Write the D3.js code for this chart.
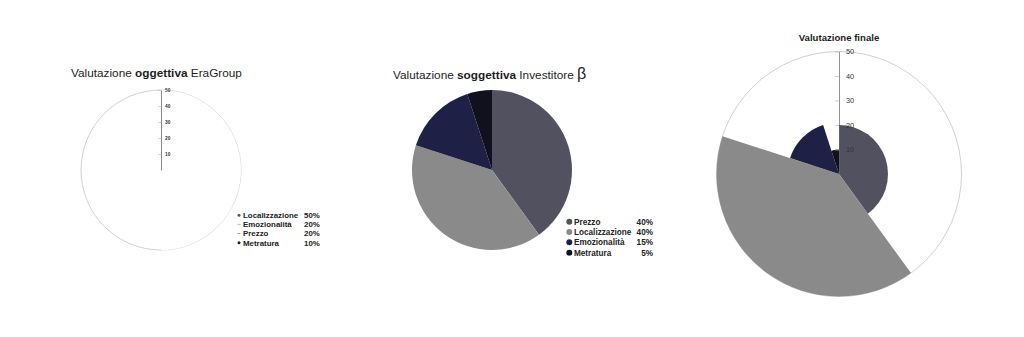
<!DOCTYPE html>
<html><head><meta charset="utf-8">
<script src="https://cdn.jsdelivr.net/npm/d3@7"></script>
<style>body{margin:0;background:#fff}svg{display:block;font-family:"Liberation Sans",Arial,sans-serif}</style>
</head><body><svg id="c" width="1024" height="337"></svg>
<script>
// ---- data ----
const categoriesObj = ["Localizzazione", "Emozionalità", "Prezzo", "Metratura"];
const valuesObj = [50, 20, 20, 10];
const categoriesSubj = ["Prezzo", "Localizzazione", "Emozionalità", "Metratura"];
const valuesSubj = [40, 40, 15, 5];
const categoriesFinal = ["Prezzo", "Localizzazione", "Emozionalità", "Metratura"];
const weightsFinal = [40, 40, 15, 5];
const valuesFinal = [20, 50, 21, 10];
const radialTicks = [10, 20, 30, 40, 50];
const radialMax = 50;
const titleObj = ["Valutazione ", "oggettiva", " EraGroup"];
const titleSubj = ["Valutazione ", "soggettiva", " Investitore ", "β"];
const titleFinal = "Valutazione finale";

// ---- styles ----
const colorOf = {"Prezzo": "#52515f", "Localizzazione": "#8a8a8a", "Emozionalità": "#1f2046", "Metratura": "#11111e"};
const svg = d3.select("#c");

// ===== Left chart: polar area (all white) =====
(function () {
  const cx = 161, cy = 170, R = 80;
  const g = svg.append("g").attr("transform", `translate(${cx},${cy})`);
  const r = d3.scaleLinear().domain([0, radialMax]).range([0, R]);
  const pie = d3.pie().sort(null).value(d => d.v);
  const data = categoriesObj.map((c, i) => ({c, v: valuesObj[i]}));
  g.append("circle").attr("r", r(radialMax)).attr("fill", "#fff").attr("stroke", "#c4c4c4").attr("stroke-width", 0.8);
  g.selectAll("path.s").data(pie(data)).join("path").attr("class", "s")
    .attr("d", d => d3.arc().innerRadius(0).outerRadius(r(d.data.v))(d))
    .attr("fill", "#fff");
  const ys = d3.scaleLinear().domain([0, radialMax]).range([0, -R]);
  const ax = g.append("g").call(d3.axisRight(ys).tickValues(radialTicks).tickSizeInner(-3).tickSizeOuter(0).tickPadding(4));
  ax.select(".domain").attr("stroke", "#555").attr("stroke-width", 0.7);
  ax.selectAll(".tick line").attr("stroke", "#bbb").attr("stroke-width", 0.6);
  ax.selectAll(".tick text").attr("font-size", 4.8).attr("font-weight", "bold").attr("fill", "#333")
    .attr("font-family", "Liberation Sans, Arial, sans-serif");

  svg.append("text").attr("x", 71).attr("y", 77).attr("font-size", 11.8).attr("fill", "#1d1d1d")
    .selectAll("tspan").data(titleObj).join("tspan")
    .attr("font-weight", (d, i) => i === 1 ? "bold" : "normal").text(d => d);

  const lg = svg.append("g");
  const rowY = d3.scalePoint().domain(categoriesObj).range([218, 245.5]);
  const markerFill = ["#5a5a5a", "#bdbdbd", "#a9a9a9", "#222"];
  categoriesObj.forEach((c, i) => {
    const y = rowY(c);
    if (i === 0 || i === 3) lg.append("circle").attr("cx", 239).attr("cy", y - 2.8).attr("r", 1.5).attr("fill", markerFill[i]);
    else lg.append("rect").attr("x", 237.5).attr("y", y - 3.3).attr("width", 3).attr("height", 1).attr("fill", markerFill[i]);
    lg.append("text").attr("x", 243).attr("y", y).attr("font-size", 7.9).attr("font-weight", "bold").attr("fill", "#222").text(c);
    lg.append("text").attr("x", 304).attr("y", y).attr("font-size", 7.9).attr("font-weight", "bold").attr("fill", "#222").text(valuesObj[i] + "%");
  });
})();

// ===== Middle chart: pie =====
(function () {
  const cx = 492, cy = 170, R = 80;
  const g = svg.append("g").attr("transform", `translate(${cx},${cy})`);
  const pie = d3.pie().sort(null).value(d => d.v);
  const data = categoriesSubj.map((c, i) => ({c, v: valuesSubj[i]}));
  const arc = d3.arc().innerRadius(0).outerRadius(R);
  g.selectAll("path").data(pie(data)).join("path").attr("d", arc).attr("fill", d => colorOf[d.data.c]);

  const t = svg.append("text").attr("x", 393).attr("y", 79).attr("font-size", 11.8).attr("fill", "#1d1d1d");
  t.selectAll("tspan").data(titleSubj).join("tspan")
    .attr("font-weight", (d, i) => i === 1 ? "bold" : "normal")
    .attr("font-size", (d, i) => i === 3 ? 16 : 11.8)
    .text(d => d);

  const rowY = d3.scalePoint().domain(categoriesSubj).range([224.7, 255.7]);
  categoriesSubj.forEach((c, i) => {
    const y = rowY(c);
    svg.append("circle").attr("cx", 569.3).attr("cy", y - 3).attr("r", 3).attr("fill", colorOf[c]);
    svg.append("text").attr("x", 574).attr("y", y).attr("font-size", 8.2).attr("font-weight", "bold").attr("fill", "#222").text(c);
    svg.append("text").attr("x", 653).attr("y", y).attr("text-anchor", "end").attr("font-size", 8.2).attr("font-weight", "bold").attr("fill", "#222").text(valuesSubj[i] + "%");
  });
})();

// ===== Right chart: polar area =====
(function () {
  const cx = 839, cy = 174, R = 122.5;
  const g = svg.append("g").attr("transform", `translate(${cx},${cy})`);
  const r = d3.scaleLinear().domain([0, radialMax]).range([0, R]);
  const pie = d3.pie().sort(null).value(d => d.w);
  const data = categoriesFinal.map((c, i) => ({c, w: weightsFinal[i], v: valuesFinal[i]}));
  g.append("circle").attr("r", r(radialMax)).attr("fill", "#fff").attr("stroke", "#c4c4c4").attr("stroke-width", 0.8);
  g.selectAll("path.s").data(pie(data)).join("path").attr("class", "s")
    .attr("d", d => d3.arc().innerRadius(0).outerRadius(r(d.data.v))(d))
    .attr("fill", d => colorOf[d.data.c]);
  const ys = d3.scaleLinear().domain([0, radialMax]).range([0, -R]);
  const ax = g.append("g").call(d3.axisRight(ys).tickValues(radialTicks).tickSizeInner(-4).tickSizeOuter(0).tickPadding(7));
  ax.select(".domain").attr("stroke", "#666").attr("stroke-width", 0.7);
  ax.selectAll(".tick line").attr("stroke", "#bbb").attr("stroke-width", 0.7);
  ax.selectAll(".tick text").attr("font-size", 7.4).attr("fill", "#333")
    .attr("font-family", "Liberation Sans, Arial, sans-serif");

  svg.append("text").attr("x", cx).attr("y", 41).attr("text-anchor", "middle").attr("font-size", 9.6).attr("font-weight", "bold").attr("fill", "#1d1d1d").text(titleFinal);
})();
</script></body></html>
